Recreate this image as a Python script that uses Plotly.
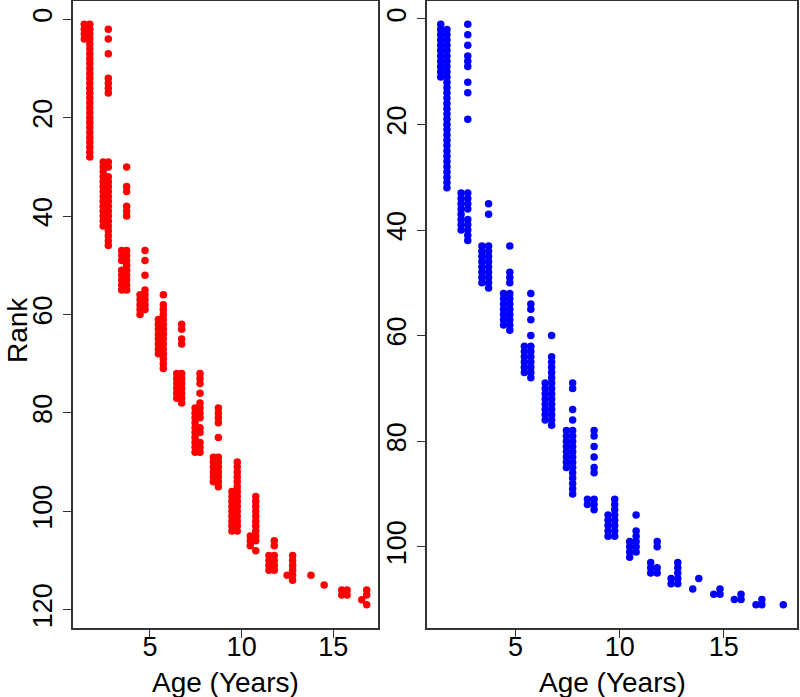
import plotly.graph_objects as go

def rng(a, b):
    return list(range(a, b + 1))

# ---- Left panel (red): column ages and the ranks plotted at each age ----
left_ages = [1.42, 1.72, 2.45, 2.73, 3.46, 3.73, 4.46, 4.73, 5.46, 5.73,
             6.46, 6.73, 7.46, 7.73, 8.46, 8.73, 9.47, 9.76, 10.47, 10.77,
             11.49, 11.78, 12.48, 12.78, 13.78, 14.50, 15.46, 15.75, 16.55, 16.82]
left_ranks = [
    [1, 2, 3, 4],
    rng(1, 28),
    rng(29, 42),
    [2, 4, 7, 12, 13, 14, 15, 29, 30] + rng(32, 46),
    [47, 48, 49] + rng(51, 55),
    [30, 34, 35, 38, 39, 40] + rng(47, 55),
    rng(56, 60),
    [47, 49, 52] + rng(55, 59),
    rng(61, 68),
    [56] + rng(58, 71),
    rng(72, 77),
    [62, 63, 65, 66] + rng(72, 78),
    rng(79, 88),
    [72, 73, 74, 76, 78, 79, 80, 81, 83, 84, 86, 87, 88],
    rng(89, 94),
    [79, 80, 81, 82, 85] + rng(89, 95),
    rng(96, 104),
    rng(90, 104),
    [105, 106, 107],
    rng(97, 106) + [108],
    rng(109, 112),
    [106, 107] + rng(109, 112),
    [113],
    rng(109, 114),
    [113],
    [115],
    [116, 117],
    [116, 117],
    [118],
    [116, 117, 119],
]

# ---- Right panel (blue) ----
right_ages = [1.40, 1.70, 2.38, 2.70, 3.38, 3.70, 4.42, 4.72, 5.42, 5.73,
              6.42, 6.73, 7.44, 7.74, 8.45, 8.77, 9.44, 9.76, 10.48, 10.79,
              11.49, 11.80, 12.47, 12.79, 13.51, 13.80, 14.52, 14.82, 15.51, 15.83,
              16.55, 16.83, 17.86]
right_ranks = [
    rng(1, 11),
    rng(2, 32),
    rng(33, 40),
    [1, 3, 5, 7, 8, 9, 12, 14, 19] + rng(33, 36) + rng(38, 42),
    rng(43, 50),
    [35, 37] + rng(43, 51),
    rng(52, 58),
    [43, 48, 49, 50] + rng(52, 59),
    rng(62, 67),
    [52, 54, 55, 57, 60] + rng(62, 68),
    rng(69, 76),
    [60] + rng(64, 77),
    rng(78, 85),
    [69, 70, 74, 76] + rng(78, 90),
    [91, 92],
    [78, 79, 81, 83, 85, 86, 91, 92, 93],
    rng(94, 98),
    rng(91, 98),
    rng(99, 102),
    [94] + rng(97, 101),
    [103, 104, 105],
    [99, 100, 104, 105],
    [106, 107],
    rng(103, 107),
    [108],
    [106],
    [109],
    [108, 109],
    [110],
    [109, 110],
    [111],
    [110, 111],
    [111],
]

x_ticks = [5, 10, 15]
left_yticks = [0, 20, 40, 60, 80, 100, 120]
right_yticks = [0, 20, 40, 60, 80, 100]


def expand(ages, ranks):
    xs, ys = [], []
    for a, rs in zip(ages, ranks):
        for r in rs:
            xs.append(a)
            ys.append(r)
    return xs, ys


lx, ly = expand(left_ages, left_ranks)
rx, ry = expand(right_ages, right_ranks)

def pad(lo, hi):
    d = (hi - lo) * 0.04
    return lo - d, hi + d

lxr = pad(min(lx), max(lx))
lyr = pad(min(ly), max(ly))
rxr = pad(min(rx), max(rx))
ryr = pad(min(ry), max(ry))

fig = go.Figure()
fig.add_trace(go.Scatter(x=lx, y=ly, mode="markers", xaxis="x", yaxis="y",
                         marker=dict(color="#FF0000", size=7.5), showlegend=False))
fig.add_trace(go.Scatter(x=rx, y=ry, mode="markers", xaxis="x2", yaxis="y2",
                         marker=dict(color="#0000FF", size=7.5), showlegend=False))

FONT = "Liberation Sans, Arial, sans-serif"
LC = "#333333"
axis_common = dict(showgrid=False, zeroline=False, showline=True, mirror=True,
                   linecolor=LC, linewidth=1.5, ticks="outside", ticklen=8,
                   tickwidth=1.3, tickcolor=LC, automargin=False,
                   tickfont=dict(family=FONT, size=27, color="#000000"))

L0, L1 = 0.0, (378 - 73) / 724
R0, R1 = (427 - 73) / 724, 1.0
PH = 627  # plot height in px (top margin 1, bottom margin 69)

fig.update_layout(
    width=800, height=697,
    margin=dict(l=73, r=3, t=1, b=69, autoexpand=False),
    paper_bgcolor="white", plot_bgcolor="white",
    xaxis=dict(domain=[L0, L1], range=list(lxr), tickvals=x_ticks,
               anchor="y", ticklabelstandoff=-14, **axis_common),
    yaxis=dict(domain=[0, 1], range=[lyr[1], lyr[0]], tickvals=left_yticks,
               tickangle=-90, anchor="x", **axis_common),
    xaxis2=dict(domain=[R0, R1], range=list(rxr), tickvals=x_ticks,
                anchor="y2", ticklabelstandoff=-14, **axis_common),
    yaxis2=dict(domain=[0, 1], range=[ryr[1], ryr[0]], tickvals=right_yticks,
                tickangle=-90, anchor="x2", **axis_common),
    annotations=[
        dict(text="Rank", xref="paper", yref="paper", x=(17 - 73) / 724,
             y=(628 - 330) / PH,
             textangle=-90, showarrow=False, xanchor="center", yanchor="middle",
             font=dict(family=FONT, size=28, color="#000000")),
        dict(text="Age (Years)", xref="paper", yref="paper", x=(L0 + L1) / 2,
             y=(628 - 682) / PH, showarrow=False, xanchor="center", yanchor="middle",
             font=dict(family=FONT, size=28, color="#000000")),
        dict(text="Age (Years)", xref="paper", yref="paper", x=(R0 + R1) / 2,
             y=(628 - 682) / PH, showarrow=False, xanchor="center", yanchor="middle",
             font=dict(family=FONT, size=28, color="#000000")),
    ],
)

fig.write_html("out.html", config={"displayModeBar": False},
               post_script="document.body.style.margin='0';")
